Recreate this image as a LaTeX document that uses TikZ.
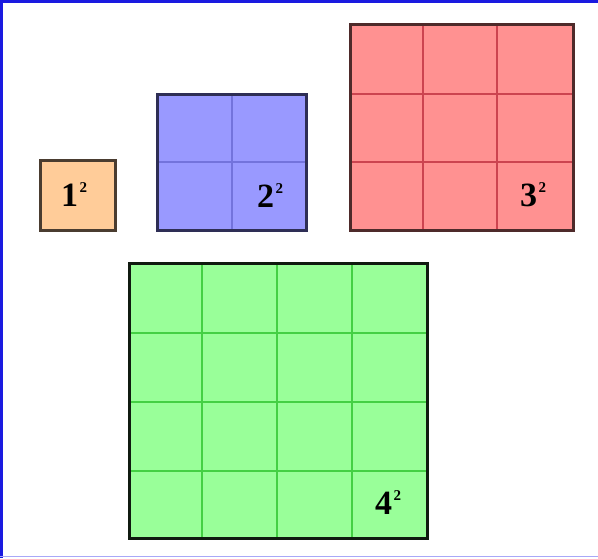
\documentclass[tikz,border=0pt]{standalone}
\usepackage{fontspec}
\setmainfont{Liberation Serif}
\usepackage{xcolor}
\usetikzlibrary{positioning}
\definecolor{sqOrange}{HTML}{FFCC99}
\definecolor{sqOrangeDk}{HTML}{4A3C30}
\definecolor{sqBlue}{HTML}{9999FF}
\definecolor{sqBlueLn}{HTML}{7373DC}
\definecolor{sqBlueDk}{HTML}{2E2E55}
\definecolor{sqRed}{HTML}{FF9191}
\definecolor{sqRedLn}{HTML}{CC4450}
\definecolor{sqRedDk}{HTML}{4E2A2A}
\definecolor{sqGreen}{HTML}{99FF99}
\definecolor{sqGreenLn}{HTML}{44D044}
\definecolor{sqGreenDk}{HTML}{101A10}
\definecolor{frameBlue}{HTML}{1A1AE0}
\definecolor{frameLight}{HTML}{A8A8F8}
\newcommand{\sqlab}[1]{#1\kern1.5pt\raisebox{14pt}{\fontsize{15}{15}\selectfont 2}}
\tikzset{
  sqbox/.style={line width=3pt},
  sqgrid/.style={line width=1.5pt},
  sqlabel/.style={font=\fontsize{34}{34}\selectfont\bfseries,inner sep=0pt,anchor=base west},
}
\begin{document}
\begin{tikzpicture}[x=1pt,y=-1pt]
\useasboundingbox (0,0) rectangle (598,558);
\fill[white] (0,0) rectangle (598,558);
\draw[frameBlue,line width=3pt] (1.5,558) -- (1.5,1.5) -- (598,1.5);
\draw[frameLight,line width=1.5pt] (0,556.5) -- (598,556.5);

% one
\filldraw[fill=sqOrange,draw=sqOrangeDk,sqbox] (40,160) rectangle (115,230);
\node[sqlabel] (one) at (61,206) {\sqlab{1}};

% two
\fill[sqBlue] (157,94) rectangle (306,230);
\draw[sqgrid,sqBlueLn] (232,94) -- (232,230) (157,162) -- (306,162);
\draw[sqbox,sqBlueDk] (157,94) rectangle (306,230);
\node[sqlabel] (two) at (257,207) {\sqlab{2}};

% three
\fill[sqRed] (350,24) rectangle (573,230);
\foreach \x in {423,497} \draw[sqgrid,sqRedLn] (\x,24) -- (\x,230);
\foreach \y in {94,162} \draw[sqgrid,sqRedLn] (350,\y) -- (573,\y);
\draw[sqbox,sqRedDk] (350,24) rectangle (573,230);
\node[sqlabel] (three) at (520,206) {\sqlab{3}};

% four
\fill[sqGreen] (129,263) rectangle (427,538);
\foreach \x in {202,277,352} \draw[sqgrid,sqGreenLn] (\x,263) -- (\x,538);
\foreach \y in {333,402,471} \draw[sqgrid,sqGreenLn] (129,\y) -- (427,\y);
\draw[sqbox,sqGreenDk] (129,263) rectangle (427,538);
\node[sqlabel] (four) at (375,514) {\sqlab{4}};
\end{tikzpicture}
\end{document}
